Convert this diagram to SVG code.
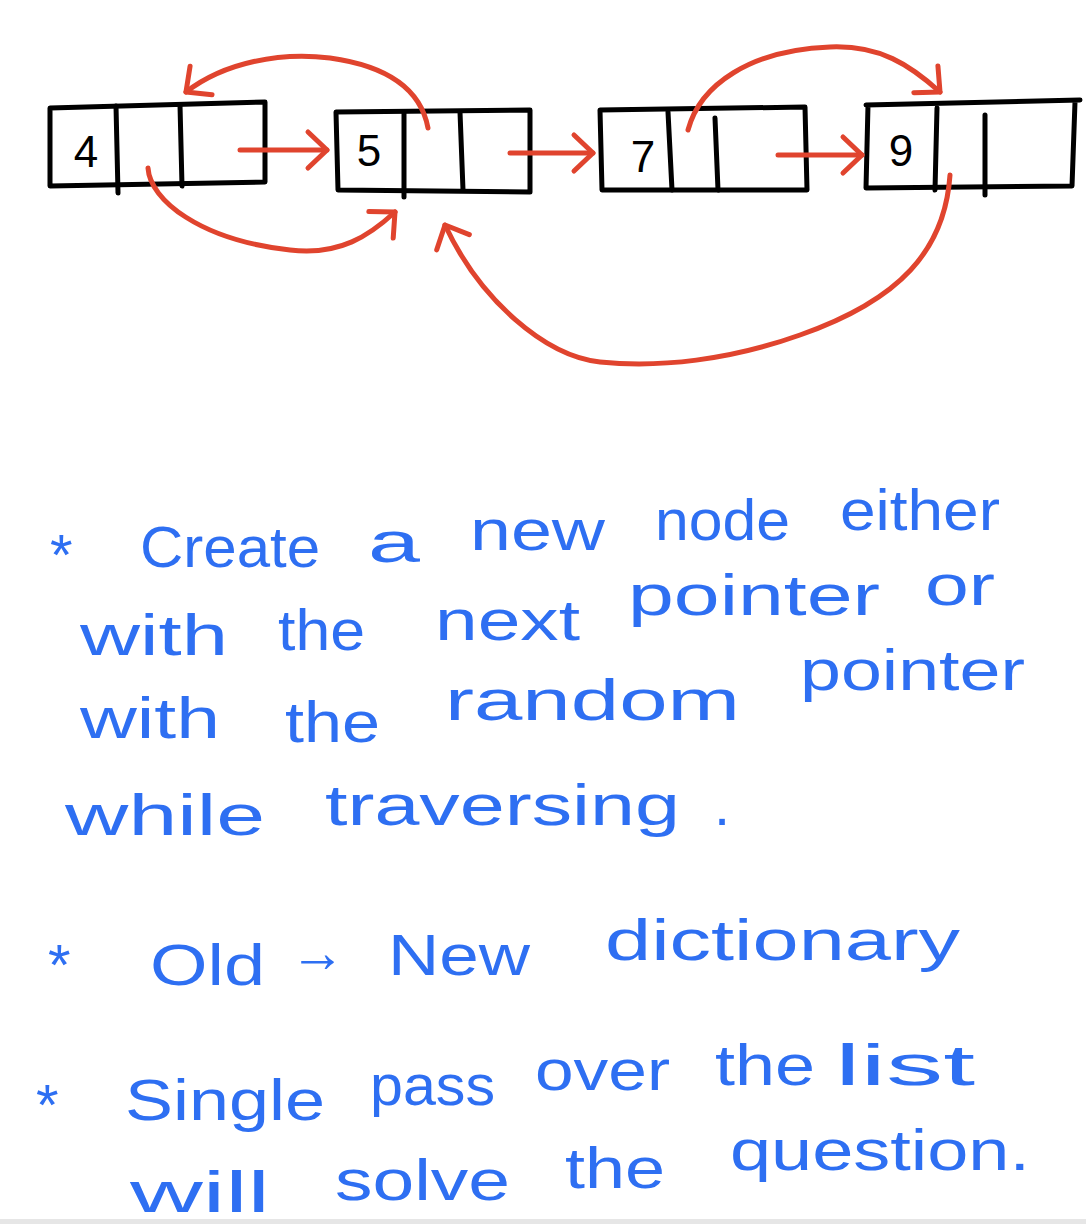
<svg xmlns="http://www.w3.org/2000/svg" width="1086" height="1224" viewBox="0 0 1086 1224">
<style>
.box{fill:none;stroke:#000;stroke-width:5;stroke-linejoin:round;stroke-linecap:round}
.num{font-family:"Liberation Sans",Arial,sans-serif;font-size:44px;fill:#000;text-anchor:middle}
.con{fill:none;stroke:#e0442e;stroke-width:5;stroke-linecap:round;stroke-linejoin:round}
.note{font-family:"Liberation Sans",Arial,sans-serif;font-size:58px;fill:#2e6ff2}
</style>
<defs>
<marker id="ah" markerUnits="userSpaceOnUse" markerWidth="50" markerHeight="50" viewBox="-30 -25 40 50" refX="0" refY="0" orient="auto" overflow="visible">
<path d="M-19,-18 L0,0 L-19,18" fill="none" stroke="#e0442e" stroke-width="5" stroke-linecap="round" stroke-linejoin="round"/>
</marker>
</defs>
<rect x="0" y="0" width="1086" height="1224" fill="#fff"/>
<rect x="0" y="1219" width="1086" height="5" fill="#e6e6e6"/>

<g id="node4">
<path class="box" d="M50,108 L265,102 L265,182 L50,186 Z"/>
<path class="box" d="M116,106 L118,193 M180,105 L182,186"/>
<text class="num" x="86" y="167">4</text>
</g>
<g id="node5">
<path class="box" d="M336,112 L530,110 L530,192 L338,190 Z"/>
<path class="box" d="M404,112 L404,197 M460,112 L463,190"/>
<text class="num" x="369" y="166">5</text>
</g>
<g id="node7">
<path class="box" d="M600,110 L805,107 L807,190 L602,190 Z"/>
<path class="box" d="M668,112 L672,190 M715,118 L718,190"/>
<text class="num" x="643" y="172">7</text>
</g>
<g id="node9">
<path class="box" d="M866,105 L1080,100 M868,105 L866,188 L1072,186 L1075,102"/>
<path class="box" d="M937,108 L935,190 M985,115 L985,195"/>
<text class="num" x="901" y="166">9</text>
</g>

<g id="connectors">
<path class="con" marker-end="url(#ah)" d="M240,150 L327,150"/>
<path class="con" marker-end="url(#ah)" d="M510,153 L593,153"/>
<path class="con" marker-end="url(#ah)" d="M778,155 L862,155"/>
<path class="con" marker-end="url(#ah)" d="M428,128 C420,85 380,65 330,58 C280,52 225,62 186,92"/>
<path class="con" marker-end="url(#ah)" d="M148,168 C150,200 200,240 290,250 C340,256 370,235 395,212"/>
<path class="con" marker-end="url(#ah)" d="M688,130 C700,85 750,50 830,47 C880,45 910,65 940,92"/>
<path class="con" marker-end="url(#ah)" d="M950,175 C945,250 900,300 800,335 C730,360 660,368 600,362 C545,356 480,300 445,225"/>
</g>

<g id="notes">
<text class="note" x="50" y="575">*</text>
<text class="note" x="140" y="567" textLength="180" lengthAdjust="spacingAndGlyphs">Create</text>
<text class="note" x="368" y="562" textLength="52" lengthAdjust="spacingAndGlyphs">a</text>
<text class="note" x="470" y="550" textLength="135" lengthAdjust="spacingAndGlyphs">new</text>
<text class="note" x="655" y="540" textLength="135" lengthAdjust="spacingAndGlyphs">node</text>
<text class="note" x="840" y="530" textLength="160" lengthAdjust="spacingAndGlyphs">either</text>

<text class="note" x="80" y="655" textLength="148" lengthAdjust="spacingAndGlyphs">with</text>
<text class="note" x="278" y="650" textLength="87" lengthAdjust="spacingAndGlyphs">the</text>
<text class="note" x="435" y="640" textLength="145" lengthAdjust="spacingAndGlyphs">next</text>
<text class="note" x="628" y="615" textLength="252" lengthAdjust="spacingAndGlyphs">pointer</text>
<text class="note" x="925" y="605" textLength="70" lengthAdjust="spacingAndGlyphs">or</text>

<text class="note" x="80" y="738" textLength="140" lengthAdjust="spacingAndGlyphs">with</text>
<text class="note" x="285" y="742" textLength="95" lengthAdjust="spacingAndGlyphs">the</text>
<text class="note" x="445" y="720" textLength="295" lengthAdjust="spacingAndGlyphs">random</text>
<text class="note" x="800" y="690" textLength="225" lengthAdjust="spacingAndGlyphs">pointer</text>

<text class="note" x="65" y="835" textLength="200" lengthAdjust="spacingAndGlyphs">while</text>
<text class="note" x="325" y="825" textLength="355" lengthAdjust="spacingAndGlyphs">traversing</text>
<text class="note" x="714" y="825">.</text>

<text class="note" x="48" y="985">*</text>
<text class="note" x="150" y="985" textLength="115" lengthAdjust="spacingAndGlyphs">Old</text>
<text class="note" x="290" y="972" textLength="55" lengthAdjust="spacingAndGlyphs">→</text>
<text class="note" x="388" y="975" textLength="142" lengthAdjust="spacingAndGlyphs">New</text>
<text class="note" x="605" y="960" textLength="355" lengthAdjust="spacingAndGlyphs">dictionary</text>

<text class="note" x="36" y="1125">*</text>
<text class="note" x="125" y="1120" textLength="200" lengthAdjust="spacingAndGlyphs">Single</text>
<text class="note" x="370" y="1105" textLength="125" lengthAdjust="spacingAndGlyphs">pass</text>
<text class="note" x="535" y="1090" textLength="135" lengthAdjust="spacingAndGlyphs">over</text>
<text class="note" x="715" y="1085" textLength="100" lengthAdjust="spacingAndGlyphs">the</text>
<text class="note" x="835" y="1085" textLength="140" lengthAdjust="spacingAndGlyphs">list</text>

<text class="note" x="130" y="1212" textLength="140" lengthAdjust="spacingAndGlyphs">will</text>
<text class="note" x="335" y="1200" textLength="175" lengthAdjust="spacingAndGlyphs">solve</text>
<text class="note" x="565" y="1188" textLength="100" lengthAdjust="spacingAndGlyphs">the</text>
<text class="note" x="730" y="1170" textLength="300" lengthAdjust="spacingAndGlyphs">question.</text>
</g>
</svg>
